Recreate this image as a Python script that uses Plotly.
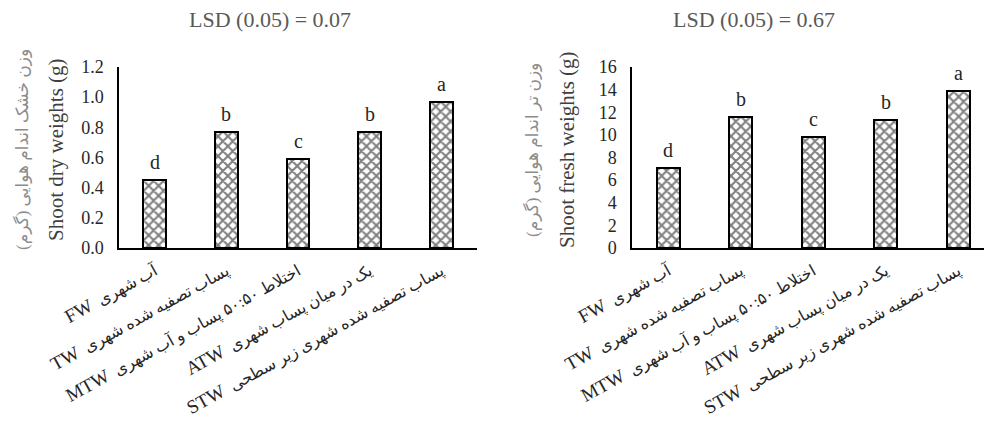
import plotly.graph_objects as go

W, H = 984, 431
codes = ["FW", "TW", "MTW", "ATW", "STW"]
names_fa = ["آب شهری",
            "پساب تصفیه شده شهری",
            "اختلاط ۵۰:۵۰ پساب و آب شهری",
            "یک در میان پساب شهری",
            "پساب تصفیه شده شهری زیر سطحی"]
dry_weights = [0.45, 0.77, 0.59, 0.77, 0.97]
dry_letters = ["d", "b", "c", "b", "a"]
fresh_weights = [7.1, 11.6, 9.85, 11.3, 13.85]
fresh_letters = ["d", "b", "c", "b", "a"]
dry_title = "LSD (0.05) = 0.07"
fresh_title = "LSD (0.05) = 0.67"
dry_ytitle_en = "Shoot dry weights (g)"
dry_ytitle_fa = "وزن خشک اندام هوایی (گرم)"
fresh_ytitle_en = "Shoot fresh weights (g)"
fresh_ytitle_fa = "وزن تر اندام هوایی (گرم)"

SERIF = "Liberation Serif, Times New Roman, DejaVu Serif, DejaVu Sans"
T, B = 67, 183
plot_h = H - T - B

def px_x(p):
    return p / W

def px_y(p):
    return (H - B - p) / plot_h

ticktext = [f"<span style='font-size:19px'>{c}</span>  {n}" for c, n in zip(codes, names_fa)]
xs = list(range(len(codes)))
pattern = dict(shape="x", fgcolor="black", bgcolor="white", size=7, solidity=0.5)

fig = go.Figure()
fig.add_trace(go.Bar(x=xs, y=dry_weights, width=0.32, xaxis="x", yaxis="y",
                     marker=dict(color="white", line=dict(color="black", width=2), pattern=pattern),
                     showlegend=False, hoverinfo="skip"))
fig.add_trace(go.Bar(x=xs, y=fresh_weights, width=0.32, xaxis="x2", yaxis="y2",
                     marker=dict(color="white", line=dict(color="black", width=2), pattern=pattern),
                     showlegend=False, hoverinfo="skip"))

ann = []
for i, (v, l) in enumerate(zip(dry_weights, dry_letters)):
    ann.append(dict(x=i, y=v, xref="x", yref="y", text=l, showarrow=False, yanchor="bottom",
                    yshift=5, font=dict(family=SERIF, size=20, color="#262626")))
for i, (v, l) in enumerate(zip(fresh_weights, fresh_letters)):
    ann.append(dict(x=i, y=v, xref="x2", yref="y2", text=l, showarrow=False, yanchor="bottom",
                    yshift=5, font=dict(family=SERIF, size=20, color="#262626")))

ann.append(dict(x=px_x(270), y=px_y(19), xref="paper", yref="paper", text=dry_title, showarrow=False,
                xanchor="center", yanchor="middle", font=dict(family=SERIF, size=22, color="#595959")))
ann.append(dict(x=px_x(754), y=px_y(19), xref="paper", yref="paper", text=fresh_title, showarrow=False,
                xanchor="center", yanchor="middle", font=dict(family=SERIF, size=22, color="#595959")))

for xe, xf, te, tf in [(56, 22, dry_ytitle_en, dry_ytitle_fa), (567, 532, fresh_ytitle_en, fresh_ytitle_fa)]:
    ann.append(dict(x=px_x(xe), y=px_y(150), xref="paper", yref="paper", text=te, showarrow=False,
                    textangle=-90, xanchor="center", yanchor="middle",
                    font=dict(family=SERIF, size=21, color="#404040")))
    ann.append(dict(x=px_x(xf), y=px_y(150), xref="paper", yref="paper", text=tf, showarrow=False,
                    textangle=-90, xanchor="center", yanchor="middle",
                    font=dict(family=SERIF, size=17, color="#8c8c8c")))

xcommon = dict(tickmode="array", tickvals=xs, ticktext=ticktext, tickangle=-29,
               showline=True, linecolor="black", linewidth=1.5, ticks="", showgrid=False,
               zeroline=False, automargin=False, ticklabelstandoff=6,
               tickfont=dict(family=SERIF, size=16, color="#262626"))
ycommon = dict(showline=True, linecolor="black", linewidth=1.5, ticks="", showgrid=False,
               zeroline=False, ticklabelstandoff=10, automargin=False,
               tickfont=dict(family=SERIF, size=18, color="#262626"))

fig.update_layout(
    width=W, height=H, margin=dict(l=0, r=0, t=T, b=B, autoexpand=False),
    paper_bgcolor="white", plot_bgcolor="white", bargap=0,
    xaxis=dict(domain=[px_x(119), px_x(477)], range=[-0.5, 4.5], **xcommon),
    xaxis2=dict(domain=[px_x(632), 1.0], range=[-0.5, 4.355], anchor="y2", **xcommon),
    yaxis=dict(domain=[0, 1], range=[0, 1.2], dtick=0.2, tickformat=".1f", anchor="x", **ycommon),
    yaxis2=dict(domain=[0, 1], range=[0, 16], dtick=2, anchor="x2", **ycommon),
    annotations=ann,
)

fig.write_html("out.html", config={"displayModeBar": False},
               post_script="document.body.style.margin='0';document.body.style.overflow='hidden';")
